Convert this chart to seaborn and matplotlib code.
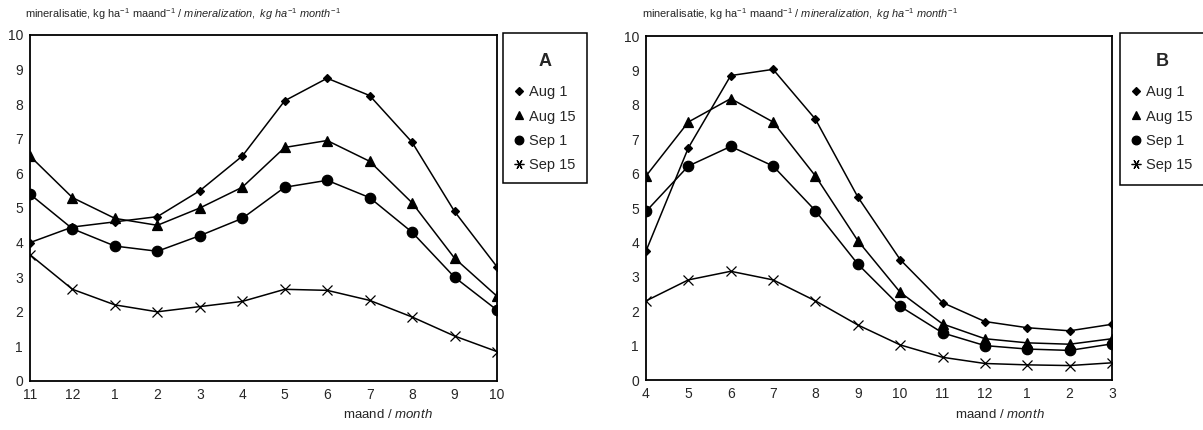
import matplotlib
matplotlib.use("Agg")
import matplotlib.pyplot as plt
from matplotlib.lines import Line2D
from matplotlib.patches import Rectangle
import pandas as pd
import seaborn as sns

# Month labels along each x axis
months_a = ["11", "12", "1", "2", "3", "4", "5", "6", "7", "8", "9", "10"]
months_b = ["4", "5", "6", "7", "8", "9", "10", "11", "12", "1", "2", "3"]

series_names = ["Aug 1", "Aug 15", "Sep 1", "Sep 15"]

# Panel A: mineralization (kg/ha/month)
a_aug1 = [4.0, 4.45, 4.6, 4.75, 5.5, 6.5, 8.1, 8.75, 8.25, 6.9, 4.9, 3.3]
a_aug15 = [6.5, 5.3, 4.7, 4.5, 5.0, 5.6, 6.75, 6.95, 6.35, 5.15, 3.55, 2.45]
a_sep1 = [5.4, 4.4, 3.9, 3.75, 4.2, 4.7, 5.6, 5.8, 5.3, 4.3, 3.0, 2.05]
a_sep15 = [3.65, 2.65, 2.2, 2.0, 2.15, 2.3, 2.65, 2.62, 2.33, 1.85, 1.3, 0.85]

# Panel B: mineralization (kg/ha/month)
b_aug1 = [3.75, 6.75, 8.85, 9.03, 7.58, 5.32, 3.5, 2.25, 1.7, 1.52, 1.43, 1.62]
b_aug15 = [5.93, 7.5, 8.18, 7.5, 5.93, 4.05, 2.55, 1.63, 1.2, 1.08, 1.04, 1.2]
b_sep1 = [4.9, 6.22, 6.79, 6.22, 4.92, 3.37, 2.14, 1.37, 1.0, 0.9, 0.86, 1.05]
b_sep15 = [2.3, 2.91, 3.16, 2.91, 2.3, 1.6, 1.02, 0.66, 0.48, 0.44, 0.42, 0.5]

yticks = list(range(0, 11))

sns.set_style("white")
plt.rcParams["font.family"] = ["Liberation Sans", "DejaVu Sans"]
plt.rcParams["mathtext.fontset"] = "custom"
plt.rcParams["mathtext.rm"] = "Liberation Sans"
plt.rcParams["mathtext.it"] = "Liberation Sans:italic"
plt.rcParams["mathtext.bf"] = "Liberation Sans:bold"

marker_style = {
    "Aug 1": dict(marker="D", markersize=4.5),
    "Aug 15": dict(marker="^", markersize=6.5),
    "Sep 1": dict(marker="o", markersize=7.5),
    "Sep 15": dict(marker="x", markersize=6.5),
}
legend_markers = {
    "Aug 1": dict(marker="D", markersize=4.2),
    "Aug 15": dict(marker="^", markersize=5.5),
    "Sep 1": dict(marker="o", markersize=6.2),
    "Sep 15": dict(marker=(6, 2, 90), markersize=7.0),
}


def make_frame(months, values):
    rows = []
    for name, vals in zip(series_names, values):
        for i, (m, v) in enumerate(zip(months, vals)):
            rows.append({"pos": i, "month": m, "value": v, "series": name})
    return pd.DataFrame(rows)


def draw_panel(ax, months, values):
    df = make_frame(months, values)
    for name in series_names:
        sub = df[df["series"] == name]
        st = marker_style[name]
        sns.lineplot(data=sub, x="pos", y="value", ax=ax, color="black",
                     linewidth=1.1, marker=st["marker"],
                     markersize=st["markersize"], markeredgecolor="black",
                     markerfacecolor="black", markeredgewidth=0.9,
                     legend=False)
    ax.set_xlim(0, len(months) - 1)
    ax.set_ylim(0, 10)
    ax.set_xticks(range(len(months)))
    ax.set_xticklabels(months)
    ax.set_yticks(yticks)
    ax.set_xlabel("")
    ax.set_ylabel("")
    ax.tick_params(axis="x", length=0, pad=5, labelsize=10)
    ax.tick_params(axis="y", direction="in", length=3, width=0.6,
                   pad=5, labelsize=10)
    for sp in ax.spines.values():
        sp.set_visible(True)
        sp.set_color("black")
        sp.set_linewidth(1.3)


fig = plt.figure(figsize=(12.03, 4.30), dpi=100)
W, H = 1203.0, 430.0
axA = fig.add_axes([30 / W, 49 / H, 467 / W, 346 / H])
axB = fig.add_axes([646 / W, 50 / H, 466 / W, 344 / H])

draw_panel(axA, months_a, [a_aug1, a_aug15, a_sep1, a_sep15])
draw_panel(axB, months_b, [b_aug1, b_aug15, b_sep1, b_sep15])

ylab = (r"mineralisatie, kg ha$^{-1}$ maand$^{-1}$ / "
        r"$\mathit{mineralization,\ kg\ ha^{-1}\ month^{-1}}$")
fig.text(25 / W, 1 - 14 / H, ylab, fontsize=7.9, ha="left", va="center")
fig.text(642 / W, 1 - 14 / H, ylab, fontsize=7.9, ha="left", va="center")

xlab = r"maand / $\mathit{month}$"
fig.text(388 / W, 1 - 415 / H, xlab, fontsize=9.5, ha="center", va="center")
fig.text(1000 / W, 1 - 415 / H, xlab, fontsize=9.5, ha="center", va="center")

handles = [Line2D([], [], color="black", linestyle="none",
                  markeredgewidth=0.9, **legend_markers[n])
           for n in series_names]

# Legend boxes: frame, panel letter and entries
for letter, x0, x1, y1 in [("A", 503, 587, 183), ("B", 1120, 1210, 185)]:
    fig.patches.append(Rectangle((x0 / W, 1 - y1 / H), (x1 - x0) / W,
                                 (y1 - 33) / H, transform=fig.transFigure,
                                 facecolor="white", edgecolor="black",
                                 linewidth=1.1, zorder=3))
    fig.text((x0 + 42) / W, 1 - 61 / H, letter, fontsize=13,
             fontweight="bold", ha="center", va="center", zorder=4)
    leg = fig.legend(handles, series_names, loc="upper left",
                     bbox_to_anchor=((x0 + 11) / W, 1 - 85 / H),
                     bbox_transform=fig.transFigure, frameon=False,
                     fontsize=10.5, handlelength=0.7, handletextpad=0.3,
                     labelspacing=0.72, borderpad=0, borderaxespad=0)
    leg.set_zorder(5)

fig.savefig("out.png", dpi=100, facecolor="white")
